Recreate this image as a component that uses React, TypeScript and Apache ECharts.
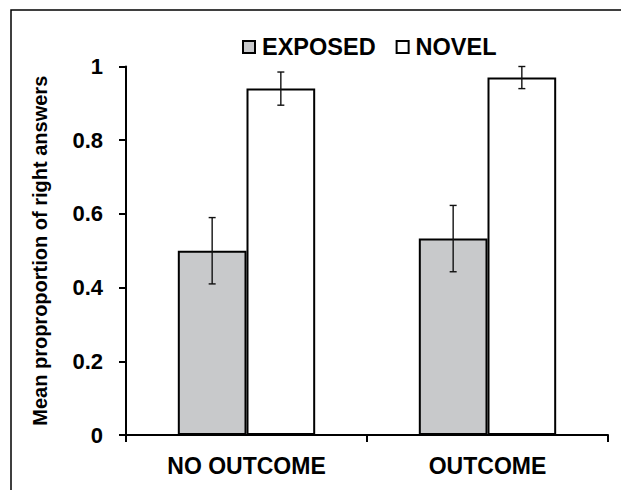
import React, { useEffect, useRef } from "react";
import * as echarts from "echarts";

const categories = ["NO OUTCOME", "OUTCOME"];
const seriesNames = ["EXPOSED", "NOVEL"];
const exposedValues = [0.5, 0.533];
const novelValues = [0.94, 0.97];
const exposedErrors = [0.09, 0.09];
const novelErrors = [0.045, 0.03];
const yTitle = "Mean proproportion of right answers";

const GAP = 0.43;

export default function App() {
  const ref = useRef<HTMLDivElement>(null);
  useEffect(() => {
    document.body.style.margin = "0";
    if (!ref.current) return;
    const chart = echarts.init(ref.current, null, { renderer: "svg" });
    const errData: number[][] = [];
    categories.forEach((_, i) => {
      errData.push([i, exposedValues[i], exposedErrors[i], 0]);
      errData.push([i, novelValues[i], novelErrors[i], 1]);
    });
    const font = "'Liberation Sans', Arial, sans-serif";
    chart.setOption({
      animation: false,
      graphic: [
        {
          type: "rect",
          shape: { x: 11, y: 10, width: 700, height: 600 },
          style: { fill: "none", stroke: "#000", lineWidth: 1.5 },
          silent: true,
        },
      ],
      legend: {
        data: seriesNames.map((n) => ({ name: n, icon: "rect" })),
        left: 237,
        top: 30,
        itemWidth: 12,
        itemHeight: 12,
        itemGap: 20,
        textStyle: {
          fontFamily: font,
          fontWeight: "bold",
          fontSize: 23.5,
          color: "#000",
          padding: [0, 0, 0, 2],
        },
      },
      grid: { left: 126, right: 13, top: 66.5, bottom: 55 },
      xAxis: {
        type: "category",
        data: categories,
        axisLine: { lineStyle: { color: "#000", width: 2 } },
        axisTick: { show: true, alignWithLabel: false, length: 7, lineStyle: { color: "#000", width: 2 } },
        axisLabel: {
          fontFamily: font,
          fontWeight: "bold",
          fontSize: 23,
          color: "#000",
          margin: 19,
        },
      },
      yAxis: {
        type: "value",
        min: 0,
        max: 1,
        interval: 0.2,
        name: yTitle,
        nameLocation: "middle",
        nameGap: 76,
        nameTextStyle: {
          fontFamily: font,
          fontWeight: "bold",
          fontSize: 20,
          color: "#000",
        },
        splitLine: { show: false },
        axisLine: { show: true, lineStyle: { color: "#000", width: 2 } },
        axisTick: { show: true, length: 7, lineStyle: { color: "#000", width: 2 } },
        axisLabel: {
          fontFamily: font,
          fontWeight: "bold",
          fontSize: 22,
          color: "#000",
          margin: 23,
        },
      },
      series: [
        {
          name: seriesNames[0],
          type: "bar",
          data: exposedValues,
          barGap: "0%",
          barCategoryGap: GAP * 100 + "%",
          itemStyle: { color: "#c8c9cb", borderColor: "#000", borderWidth: 2 },
        },
        {
          name: seriesNames[1],
          type: "bar",
          data: novelValues,
          barGap: "0%",
          barCategoryGap: GAP * 100 + "%",
          itemStyle: { color: "#fff", borderColor: "#000", borderWidth: 2 },
        },
        {
          type: "custom",
          name: "err",
          data: errData,
          z: 10,
          renderItem: (params: any, api: any) => {
            const ci = api.value(0);
            const v = api.value(1);
            const e = api.value(2);
            const si = api.value(3);
            const band = api.size([1, 0])[0];
            const bw = (band * (1 - GAP)) / 2;
            const center = api.coord([ci, v]);
            const x = center[0] + (si === 0 ? -bw / 2 : bw / 2);
            const top = api.coord([ci, v + e])[1];
            const bot = api.coord([ci, v - e])[1];
            const cap = 3.5;
            const style = { stroke: "#111", lineWidth: 1.4 };
            return {
              type: "group",
              children: [
                { type: "line", shape: { x1: x, y1: top, x2: x, y2: bot }, style },
                { type: "line", shape: { x1: x - cap, y1: top, x2: x + cap, y2: top }, style },
                { type: "line", shape: { x1: x - cap, y1: bot, x2: x + cap, y2: bot }, style },
              ],
            };
          },
        },
      ],
    });
    return () => chart.dispose();
  }, []);
  return <div ref={ref} style={{ width: 621, height: 490 }} />;
}
